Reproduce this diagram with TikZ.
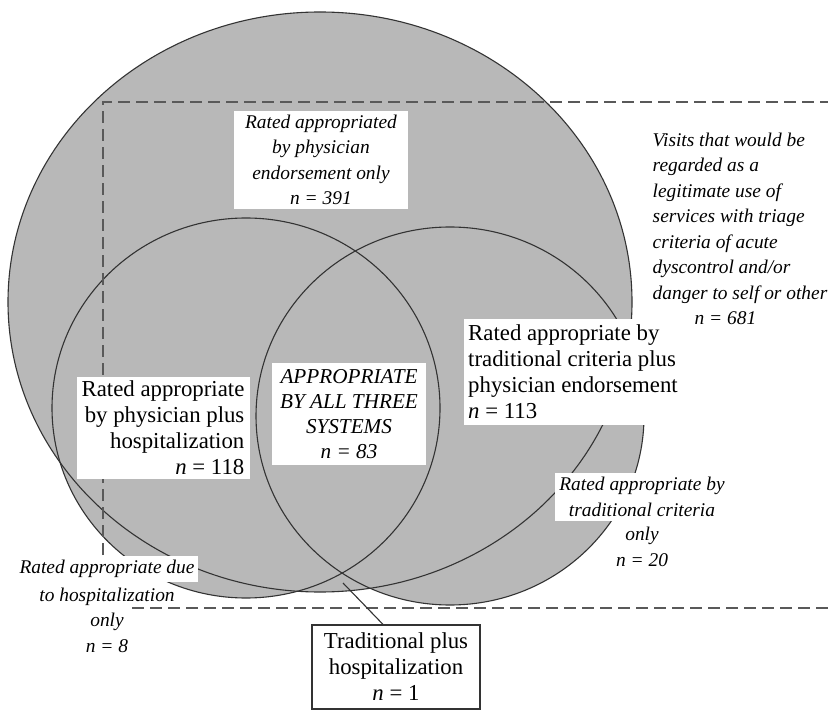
\documentclass[tikz,border=0pt]{standalone}
\usepackage{fontspec}
\setmainfont{Liberation Serif}
\usetikzlibrary{positioning}

\definecolor{venngray}{gray}{0.72}
\definecolor{edgegray}{gray}{0.2}
\newcommand\rmlab{\fontsize{11.4}{13}\selectfont}
\newcommand\itlab{\fontsize{9.7}{12.75}\selectfont\itshape}
\newcommand\itcaps{\fontsize{10.6}{12.6}\selectfont\itshape}

\tikzset{
  setline/.style={draw=edgegray, line width=0.55pt},
  frameline/.style={draw=black!65, line width=0.6pt, dash pattern=on 6pt off 3pt},
  uplabel/.style={fill=white, inner sep=2pt, font=\rmlab},
  itlabel/.style={fill=white, inner sep=2pt, font=\itlab},
}

\begin{document}
\begin{tikzpicture}[x=0.5pt, y=-0.5pt]
\useasboundingbox (0,0) rectangle (828,710);

% the three rating systems
\fill[venngray] (320,302) ellipse [x radius=156pt, y radius=145pt];
\fill[venngray] (246,408) ellipse [x radius=97pt, y radius=95pt];
\fill[venngray] (450,416) ellipse [x radius=97pt, y radius=94.5pt];
\draw[setline] (320,302) ellipse [x radius=156pt, y radius=145pt];
\draw[setline] (246,408) ellipse [x radius=97pt, y radius=95pt];
\draw[setline] (450,416) ellipse [x radius=97pt, y radius=94.5pt];

% triage criteria frame
\draw[frameline] (103,555) -- (103,102) -- (828,102);
\draw[frameline] (132,608) -- (828,608);

\node[itlabel, align=center, minimum width=87pt, minimum height=48.5pt] (physonly) at (321,160)
  {Rated appropriated\\by physician\\endorsement only\\n = 391};
\node[font=\itlab, align=left, inner sep=0pt] (visits) at (740,229)
  {Visits that would be\\regarded as a\\legitimate use of\\services with triage\\criteria of acute\\dyscontrol and/or\\danger to self or other\\\hspace*{21pt}n = 681};
\node[uplabel, align=left, minimum width=109.5pt, minimum height=52.5pt] (tradphys) at (573,372)
  {Rated appropriate by\\traditional criteria plus\\physician endorsement\\{\itshape n} = 113};
\node[uplabel, align=right, minimum width=86.5pt, minimum height=50.5pt] (hospphys) at (163,428)
  {Rated appropriate\\by physician plus\\hospitalization\\{\itshape n} = 118};
\node[itlabel, font=\itcaps, align=center, minimum width=77pt, minimum height=50.5pt] (allthree) at (349,414)
  {APPROPRIATE\\BY ALL THREE\\SYSTEMS\\n = 83};

\node[itlabel, align=center] (tradtop) at (642,497) {Rated appropriate by\\traditional criteria};
\node[font=\itlab, align=center, inner sep=1pt, below=2pt of tradtop] (tradbot) {only\\n = 20};

\node[itlabel] (hosptop) at (107,569) {Rated appropriate due};
\node[font=\itlab, align=center, inner sep=1pt, below=1.5pt of hosptop] (hospbot) {to hospitalization\\only\\n = 8};

\node[draw=black!80, line width=0.6pt, fill=white, font=\rmlab, align=center,
  minimum width=84pt, minimum height=42pt] (tradhosp) at (396,667)
  {Traditional plus\\hospitalization\\{\itshape n} = 1};
\coordinate (tip) at (343,583);
\draw[setline] ([xshift=-6.5pt]tradhosp.north) -- (tip);
\end{tikzpicture}
\end{document}
